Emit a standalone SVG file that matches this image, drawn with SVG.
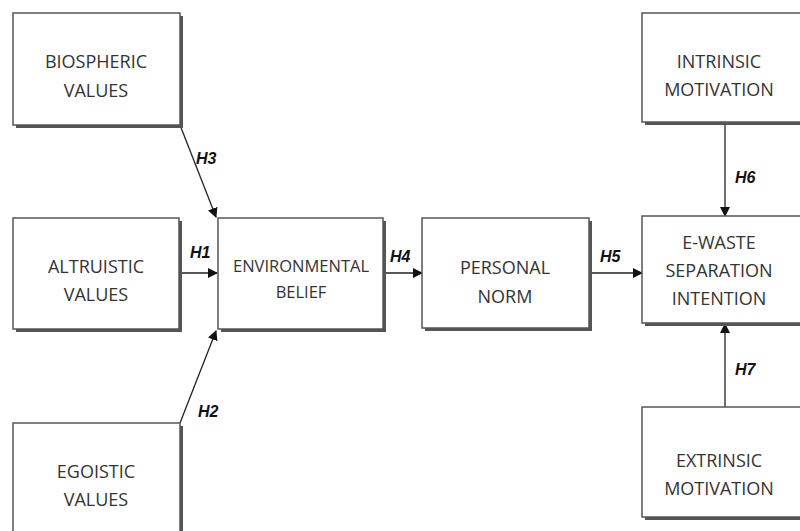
<svg xmlns="http://www.w3.org/2000/svg" width="800" height="531" viewBox="0 0 800 531">
<style>
.box{fill:#fff;stroke:#555;stroke-width:1.5}
.sh{fill:#555}
.t{font-family:"Open Sans","Liberation Sans",sans-serif;font-size:18px;fill:#333;text-anchor:middle}
.h{font-family:"Liberation Sans",Arial,sans-serif;font-size:16px;font-weight:bold;font-style:italic;fill:#111}
.c{stroke:#222;stroke-width:1.3;fill:none;marker-end:url(#ah)}
</style>
<defs>
<marker id="ah" markerWidth="10" markerHeight="10" refX="9" refY="5" orient="auto" markerUnits="userSpaceOnUse">
<path d="M0,0 L10,5 L0,10 z" fill="#111"/>
</marker>
</defs>
<rect width="800" height="531" fill="#fff"/>
<g id="connectors">
<line class="c" x1="180" y1="125" x2="216" y2="217"/>
<line class="c" x1="180" y1="273" x2="217" y2="273"/>
<line class="c" x1="180" y1="423" x2="216" y2="331"/>
<line class="c" x1="384" y1="273" x2="422" y2="273"/>
<line class="c" x1="590" y1="273" x2="642" y2="273"/>
<line class="c" x1="725" y1="123" x2="725" y2="216"/>
<line class="c" x1="725" y1="407" x2="725" y2="324"/>
<text class="h" x="196" y="164">H3</text>
<text class="h" x="190" y="258">H1</text>
<text class="h" x="198" y="417">H2</text>
<text class="h" x="390" y="262">H4</text>
<text class="h" x="600" y="262">H5</text>
<text class="h" x="735" y="183">H6</text>
<text class="h" x="735" y="375">H7</text>
</g>
<g id="biospheric">
<rect class="sh" x="16" y="16" width="167" height="112"/>
<rect class="box" x="13" y="13" width="167" height="112"/>
<text class="t" x="96" y="68">BIOSPHERIC</text>
<text class="t" x="96" y="97">VALUES</text>
</g>
<g id="altruistic">
<rect class="sh" x="16" y="221" width="166" height="111"/>
<rect class="box" x="13" y="218" width="166" height="111"/>
<text class="t" x="96" y="273">ALTRUISTIC</text>
<text class="t" x="96" y="301">VALUES</text>
</g>
<g id="egoistic">
<rect class="sh" x="16" y="426" width="167" height="112"/>
<rect class="box" x="13" y="423" width="167" height="112"/>
<text class="t" x="96" y="478">EGOISTIC</text>
<text class="t" x="96" y="506">VALUES</text>
</g>
<g id="environmental">
<rect class="sh" x="221" y="221" width="165" height="111"/>
<rect class="box" x="218" y="218" width="165" height="111"/>
<text class="t" x="301" y="272" style="font-size:16.5px">ENVIRONMENTAL</text>
<text class="t" x="301" y="298" style="font-size:16.5px">BELIEF</text>
</g>
<g id="personal">
<rect class="sh" x="425" y="221" width="167" height="110"/>
<rect class="box" x="422" y="218" width="167" height="110"/>
<text class="t" x="505" y="274">PERSONAL</text>
<text class="t" x="505" y="303">NORM</text>
</g>
<g id="intrinsic">
<rect class="sh" x="645" y="16" width="160" height="109"/>
<rect class="box" x="642" y="13" width="165" height="109"/>
<text class="t" x="719" y="68">INTRINSIC</text>
<text class="t" x="719" y="96">MOTIVATION</text>
</g>
<g id="ewaste">
<rect class="sh" x="645" y="219" width="160" height="107"/>
<rect class="box" x="642" y="216" width="165" height="107"/>
<text class="t" x="719" y="249">E-WASTE</text>
<text class="t" x="719" y="277">SEPARATION</text>
<text class="t" x="719" y="305">INTENTION</text>
</g>
<g id="extrinsic">
<rect class="sh" x="645" y="410" width="160" height="110"/>
<rect class="box" x="642" y="407" width="165" height="110"/>
<text class="t" x="719" y="467">EXTRINSIC</text>
<text class="t" x="719" y="495">MOTIVATION</text>
</g>
</svg>
